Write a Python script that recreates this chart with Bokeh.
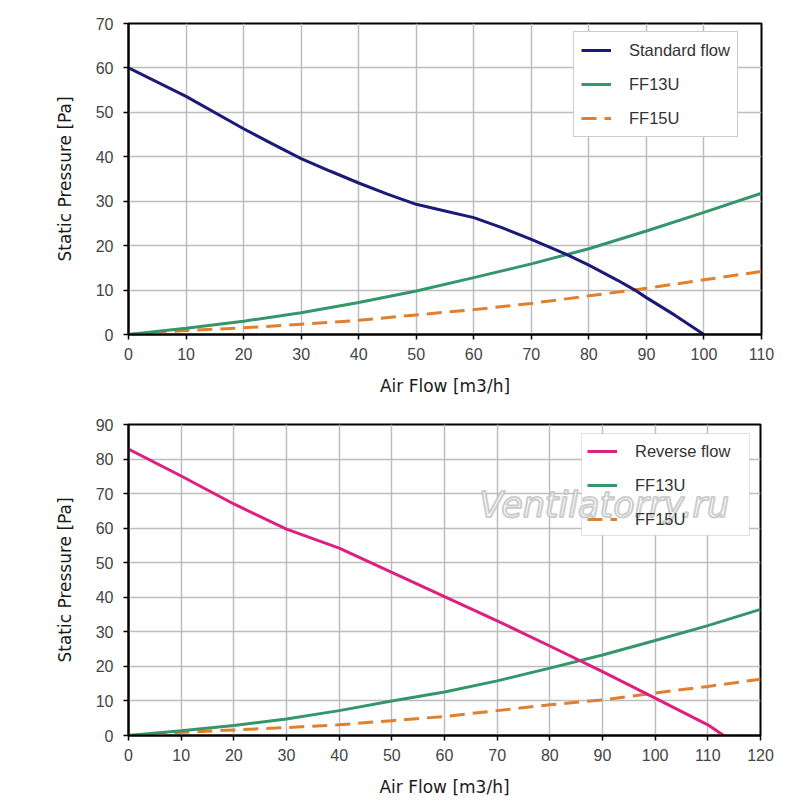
from bokeh.plotting import figure
from bokeh.models import Range1d, FixedTicker, Legend, LegendItem, Label, BoxAnnotation
from bokeh.layouts import column
from bokeh.embed import file_html
from bokeh.resources import INLINE

# ---- données : courbe standard (haut)
std_flow = [0, 10, 20, 25, 30, 35, 40, 45, 50, 55, 60, 65, 70, 76, 80, 85, 88, 90, 95, 100]
std_pres = [60, 53.6, 46.3, 42.9, 39.6, 36.8, 34.1, 31.6, 29.3, 27.8, 26.3, 24.0, 21.4, 18.1, 15.6, 12.2, 10.0, 8.3, 4.3, 0]

flow_top = [0, 10, 20, 30, 40, 50, 60, 70, 80, 90, 100, 110]
ff13u_top = [0, 1.4, 3.0, 4.9, 7.2, 9.8, 12.8, 15.9, 19.3, 23.3, 27.5, 31.8]
ff15u_top = [0, 0.9, 1.5, 2.3, 3.2, 4.4, 5.6, 7.0, 8.7, 10.4, 12.3, 14.2]

# ---- données : courbe inversée (bas)
rev_flow = [0, 10, 20, 30, 40, 50, 60, 70, 80, 90, 100, 110, 113]
rev_pres = [82.9, 75.1, 67.0, 59.7, 54.2, 47.2, 40.2, 33.2, 25.9, 18.5, 10.8, 3.1, 0]

flow_bot = [0, 10, 20, 30, 40, 50, 60, 70, 80, 90, 100, 110, 120]
ff13u_bot = [0, 1.4, 2.9, 4.8, 7.2, 10.0, 12.6, 15.8, 19.5, 23.3, 27.5, 31.8, 36.5]
ff15u_bot = [0, 0.9, 1.6, 2.3, 3.1, 4.3, 5.5, 7.2, 8.9, 10.3, 12.3, 14.2, 16.3]

x_ticks_top = list(range(0, 111, 10))
y_ticks_top = list(range(0, 71, 10))
x_ticks_bot = list(range(0, 121, 10))
y_ticks_bot = list(range(0, 91, 10))

NAVY = "#1c1a78"
GREEN = "#35966b"
ORANGE = "#e0802f"
MAGENTA = "#dd1f80"


def make_fig(xmax, ymax, xt, yt, fw, top, bottom):
    p = figure(frame_width=fw, frame_height=311, min_border_left=128, min_border_right=31,
               min_border_top=top, min_border_bottom=bottom,
               x_range=Range1d(0, xmax), y_range=Range1d(0, ymax),
               output_backend="svg", toolbar_location=None)
    p.outline_line_color = "black"
    p.outline_line_width = 2
    p.background_fill_color = "white"
    p.border_fill_color = "white"
    p.grid.grid_line_color = "#bdbdbd"
    p.grid.grid_line_width = 1.5
    p.xaxis.ticker = FixedTicker(ticks=xt)
    p.yaxis.ticker = FixedTicker(ticks=yt)
    for ax in (p.xaxis, p.yaxis):
        ax.axis_line_color = "black"
        ax.axis_line_width = 2
        ax.major_tick_line_color = "black"
        ax.major_tick_line_width = 1.5
        ax.major_tick_in = 0
        ax.major_tick_out = 5
        ax.minor_tick_line_color = None
        ax.major_label_text_font = "Liberation Sans"
        ax.major_label_text_font_size = "16px"
        ax.major_label_text_color = "#444444"
        ax.axis_label_text_font = "DejaVu Sans"
        ax.axis_label_text_font_size = "17px"
        ax.axis_label_text_font_style = "normal"
        ax.axis_label_text_color = "#1a1a1a"
    p.xaxis.major_label_standoff = 8
    p.xaxis.axis_label_standoff = 13
    p.yaxis.major_label_standoff = 10
    p.yaxis.axis_label_standoff = 18
    p.xaxis.axis_label = "Air Flow [m3/h]"
    p.yaxis.axis_label = "Static Pressure [Pa]"
    return p


def add_legend(p, items, x, y, boxed=True):
    leg = Legend(items=items, location=(x, y))
    leg.label_text_font = "Liberation Sans"
    leg.label_text_font_size = "16.5px"
    leg.label_text_color = "#333333"
    if boxed:
        leg.border_line_color = "#999999"
        leg.border_line_width = 1
        leg.background_fill_alpha = 1
    else:
        leg.border_line_color = None
        leg.background_fill_alpha = 0
    leg.padding = 7
    leg.spacing = 12
    leg.glyph_width = 30
    leg.glyph_height = 22
    leg.label_height = 22
    leg.label_standoff = 18
    leg.margin = 0
    p.add_layout(leg, "center")


# ---- graphique du haut
p1 = make_fig(110, 70, x_ticks_top, y_ticks_top, 633, 23, 72)
r_ff15 = p1.line(flow_top, ff15u_top, line_color=ORANGE, line_width=3, line_dash="15 8")
r_ff13 = p1.line(flow_top, ff13u_top, line_color=GREEN, line_width=3)
r_std = p1.line(std_flow, std_pres, line_color=NAVY, line_width=3)
add_legend(p1, [LegendItem(label="Standard flow", renderers=[r_std]),
                LegendItem(label="FF13U", renderers=[r_ff13]),
                LegendItem(label="FF15U", renderers=[r_ff15])], 445, 197)

# ---- graphique du bas
p2 = make_fig(120, 90, x_ticks_bot, y_ticks_bot, 632, 18, 72)

# cadre de légende dessiné sous le filigrane
leg_box = BoxAnnotation(left=86.0, right=117.9, bottom=57.9, top=87.4, level="underlay",
                        fill_color="white", fill_alpha=1, line_color="#999999", line_width=1)
p2.add_layout(leg_box)

q_ff15 = p2.line(flow_bot, ff15u_bot, line_color=ORANGE, line_width=3, line_dash="15 8")
q_ff13 = p2.line(flow_bot, ff13u_bot, line_color=GREEN, line_width=3)
q_rev = p2.line(rev_flow, rev_pres, line_color=MAGENTA, line_width=3)
add_legend(p2, [LegendItem(label="Reverse flow", renderers=[q_rev]),
                LegendItem(label="FF13U", renderers=[q_ff13]),
                LegendItem(label="FF15U", renderers=[q_ff15])], 459, 205, boxed=False)

# filigrane
wm = Label(x=66.6, y=66.6, text="Ventilatorry.ru", text_font="DejaVu Sans",
           text_font_style="italic", text_font_size="35px", text_color="white",
           text_baseline="alphabetic", text_alpha=0.8, text_outline_color="#c0c0c0")
p2.add_layout(wm)

page = column(p1, p2, spacing=0)

open("out.html", "w").write(file_html(page, INLINE))
